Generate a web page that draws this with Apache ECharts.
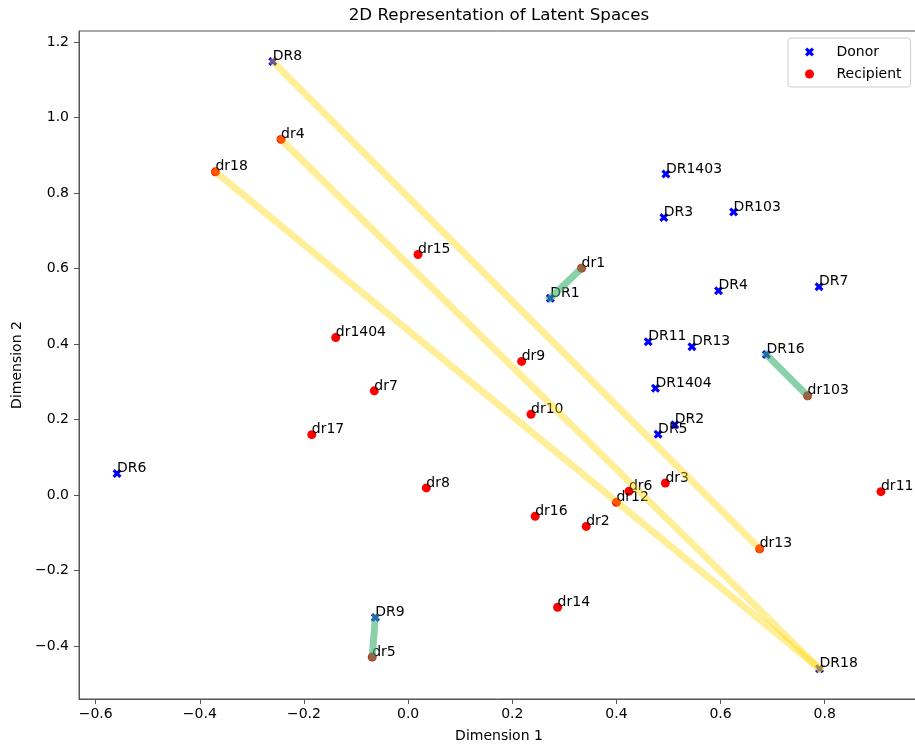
<!DOCTYPE html>
<html><head><meta charset="utf-8">
<script src="https://cdn.jsdelivr.net/npm/echarts@6/dist/echarts.min.js"></script>
<style>html,body{margin:0;padding:0;background:#fff}#c{width:915px;height:750px}</style>
</head><body><div id="c"></div>
<script>
const donorNames = ['DR8','DR1403','DR3','DR103','DR1','DR4','DR7','DR11','DR13','DR16','DR1404','DR2','DR5','DR6','DR9','DR18'];
const donorX = [-0.260, 0.495, 0.491, 0.625, 0.273, 0.596, 0.789, 0.461, 0.545, 0.688, 0.475, 0.512, 0.480, -0.559, -0.063, 0.790];
const donorY = [1.148, 0.850, 0.735, 0.750, 0.521, 0.541, 0.552, 0.406, 0.393, 0.372, 0.283, 0.186, 0.161, 0.057, -0.324, -0.460];

const recipNames = ['dr4','dr18','dr15','dr1','dr1404','dr9','dr7','dr103','dr10','dr17','dr3','dr8','dr6','dr11','dr12','dr16','dr2','dr13','dr14','dr5'];
const recipX = [-0.244, -0.370, 0.019, 0.333, -0.139, 0.218, -0.065, 0.767, 0.236, -0.185, 0.494, 0.035, 0.424, 0.908, 0.400, 0.244, 0.342, 0.675, 0.287, -0.069];
const recipY = [0.942, 0.856, 0.637, 0.601, 0.417, 0.354, 0.276, 0.263, 0.214, 0.160, 0.032, 0.019, 0.010, 0.009, -0.019, -0.056, -0.083, -0.142, -0.297, -0.429];

const yellowPairs = [['DR8','dr13'],['DR18','dr4'],['DR18','dr18']];
const greenPairs = [['DR1','dr1'],['DR16','dr103'],['DR9','dr5']];

const xTicks = [-0.6,-0.4,-0.2,0.0,0.2,0.4,0.6,0.8];
const yTicks = [-0.4,-0.2,0.0,0.2,0.4,0.6,0.8,1.0,1.2];

const FONT = 'DejaVu Sans';
const X_PATH = 'path://M3,0L4,1L3,2L4,3L3,4L2,3L1,4L0,3L1,2L0,1L1,0L2,1Z';

const donorData = donorNames.map((n,i)=>({name:n, value:[donorX[i], donorY[i]]}));
const recipData = recipNames.map((n,i)=>({name:n, value:[recipX[i], recipY[i]]}));
function pt(name){
  let i = donorNames.indexOf(name);
  if (i >= 0) return [donorX[i], donorY[i]];
  i = recipNames.indexOf(name);
  return [recipX[i], recipY[i]];
}
const lineData = [];
yellowPairs.forEach(p=>lineData.push({coords:[pt(p[0]),pt(p[1])], lineStyle:{color:'#FFD700', opacity:0.4}}));
greenPairs.forEach(p=>lineData.push({coords:[pt(p[0]),pt(p[1])], lineStyle:{color:'#3CB371', opacity:0.6}}));

const fmt = v => (v < -1e-9 ? '\u2212' : '') + Math.abs(v).toFixed(1);
const labelCfg = {show:true, formatter:'{b}', position:[4.5,6.5], align:'left', verticalAlign:'bottom',
  fontFamily:FONT, fontSize:14, lineHeight:14, color:'#000'};

const chart = echarts.init(document.getElementById('c'), null, {renderer:'canvas'});
chart.setOption({
  animation:false,
  backgroundColor:'#fff',
  title:{text:'2D Representation of Latent Spaces', left:499, top:6, textAlign:'center', padding:0,
    textStyle:{fontFamily:FONT, fontSize:16.7, fontWeight:'normal', color:'#000', lineHeight:20}},
  legend:{left:788, top:38, orient:'vertical', padding:[6,9,5,17], itemWidth:40, itemHeight:9, itemGap:6,
    borderColor:'#cccccc', borderWidth:1, borderRadius:3, backgroundColor:'rgba(255,255,255,0.8)',
    textStyle:{fontFamily:FONT, fontSize:14, color:'#000', lineHeight:16, padding:[0,0,0,2]},
    data:[{name:'Donor', icon:X_PATH},{name:'Recipient', icon:'circle'}]},
  grid:{left:79, top:31, width:840, height:668, outerBoundsMode:'none', containLabel:false,
    show:true, borderColor:'#555', borderWidth:1, backgroundColor:'transparent'},
  xAxis:{type:'value', min:-0.632, max:0.981, splitLine:{show:false},
    axisLine:{show:true, onZero:false, lineStyle:{color:'#555', width:1}},
    axisTick:{show:true, inside:false, length:5, lineStyle:{color:'#555'}, customValues:xTicks},
    axisLabel:{customValues:xTicks, formatter:fmt, margin:8, fontFamily:FONT, fontSize:14, color:'#000'},
    name:'Dimension 1', nameLocation:'middle', nameGap:30,
    nameTextStyle:{fontFamily:FONT, fontSize:14, color:'#000'}},
  yAxis:{type:'value', min:-0.540, max:1.229, splitLine:{show:false},
    axisLine:{show:true, onZero:false, lineStyle:{color:'#555', width:1}},
    axisTick:{show:true, inside:false, length:5, lineStyle:{color:'#555'}, customValues:yTicks},
    axisLabel:{customValues:yTicks, formatter:fmt, margin:10, fontFamily:FONT, fontSize:14, color:'#000'},
    name:'Dimension 2', nameLocation:'middle', nameGap:54, nameRotate:90,
    nameTextStyle:{fontFamily:FONT, fontSize:14, color:'#000'}},
  series:[
    {type:'scatter', name:'Donor', symbol:X_PATH, symbolSize:9, z:2, itemStyle:{color:'#0000ff', opacity:1},
      data:donorData, label:labelCfg, silent:true},
    {type:'scatter', name:'Recipient', symbol:'circle', symbolSize:9, z:2, itemStyle:{color:'#ff0000', opacity:1},
      data:recipData, label:labelCfg, silent:true},
    {type:'lines', coordinateSystem:'cartesian2d', z:3, silent:true, polyline:false,
      lineStyle:{width:7, cap:'square', curveness:0}, data:lineData}
  ]
});
</script></body></html>
